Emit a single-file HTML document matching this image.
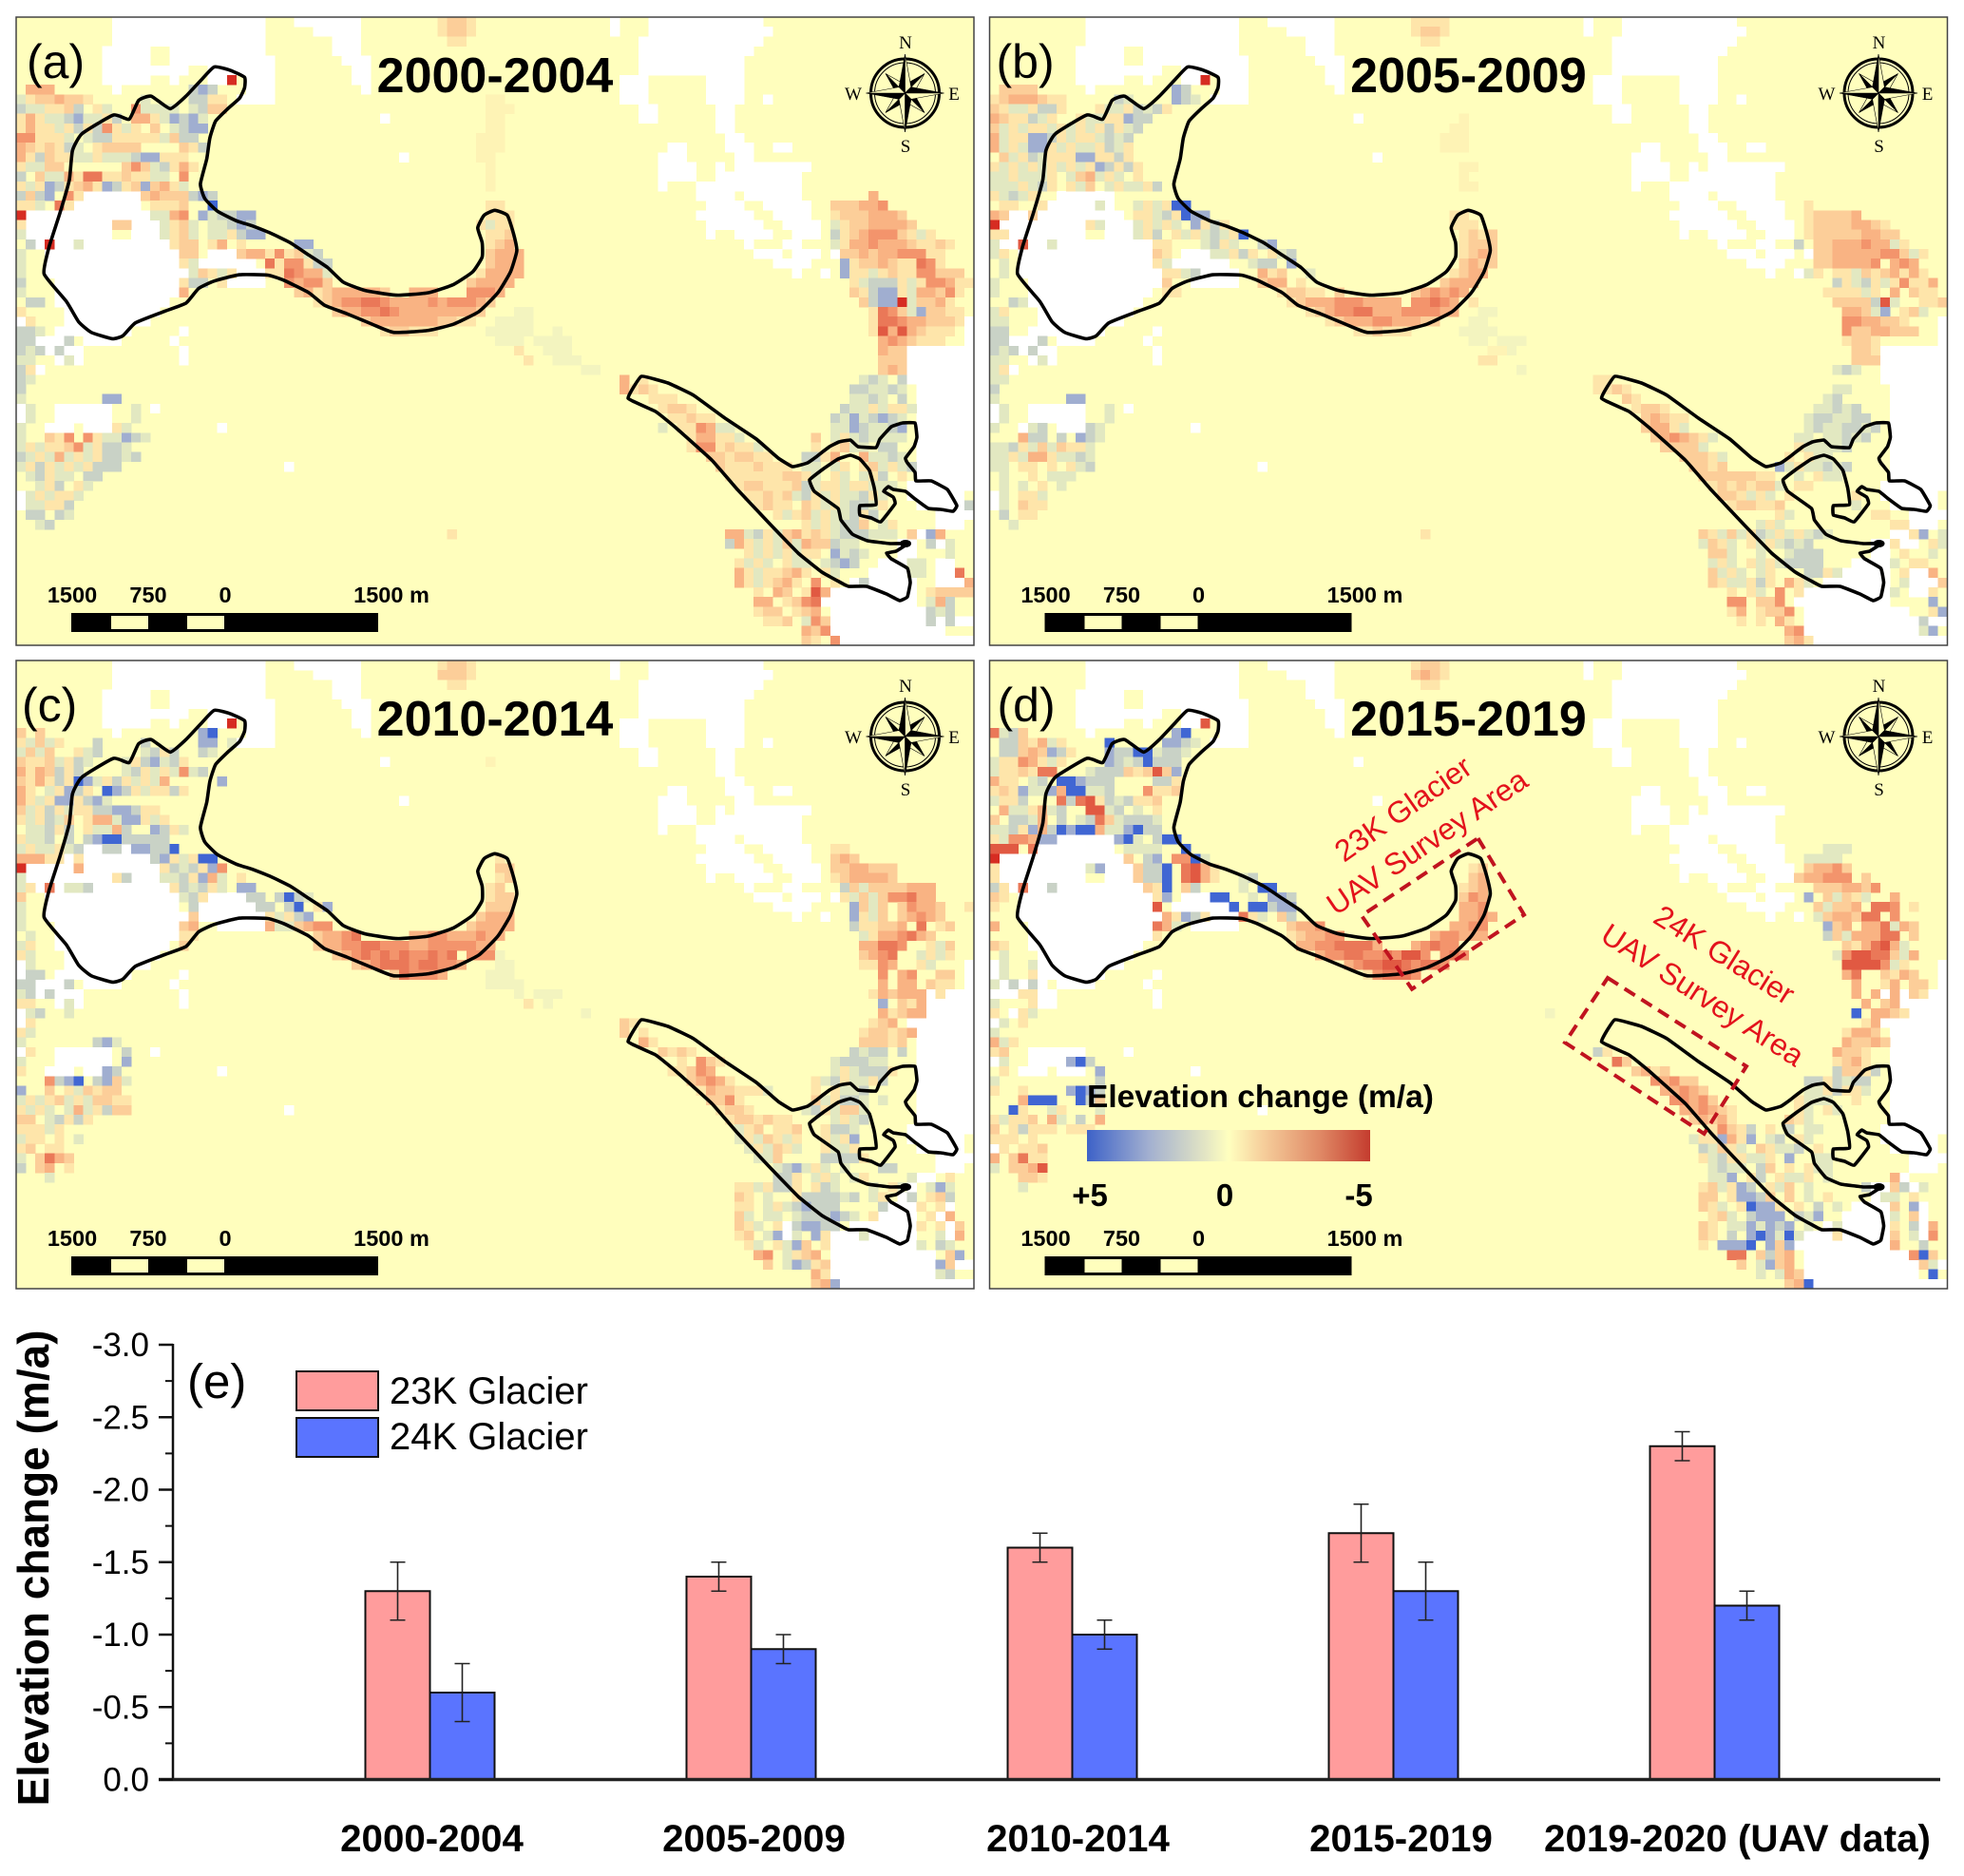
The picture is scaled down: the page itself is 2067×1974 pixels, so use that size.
<!DOCTYPE html>
<html lang="en">
<head>
<meta charset="utf-8">
<title>Glacier elevation change</title>
<style>
html,body{margin:0;padding:0;background:#fff;width:2067px;height:1974px;overflow:hidden}
svg{display:block;font-family:"Liberation Sans",Arial,sans-serif}
.title{font-size:52px;font-weight:700;text-anchor:middle}
.plabel{font-size:50px}
.sb{font-size:23.5px;font-weight:700;text-anchor:middle}
.cp{font-family:"Liberation Serif",serif;font-size:19px;text-anchor:middle}
.tick{font-size:35px;text-anchor:end}
.cat{font-size:40.3px;font-weight:700;text-anchor:middle}
.leg{font-size:40px}
.red{font-size:32px;fill:#e3121c;text-anchor:middle}
.cb{font-size:33px;font-weight:700;text-anchor:middle}
</style>
</head>
<body>
<svg id="fig" xmlns="http://www.w3.org/2000/svg" width="2067" height="1974" viewBox="0 0 2067 1974">
<defs>
<linearGradient id="cbg" x1="0" x2="1" y1="0" y2="0">
<stop offset="0" stop-color="#3d62c8"/><stop offset=".22" stop-color="#a3b0d0"/><stop offset=".42" stop-color="#e4e6c4"/><stop offset=".5" stop-color="#ffffbf"/><stop offset=".62" stop-color="#f6cf9c"/><stop offset=".82" stop-color="#e08a66"/><stop offset="1" stop-color="#c43c2e"/>
</linearGradient>
</defs>

<g id="panel-a">
<rect id="bg-a" x="17" y="18" width="1008" height="661" fill="#fffebd"/>
<g id="cells-a" shape-rendering="crispEdges"></g>
<g id="outline-a"></g>
<rect x="17" y="18" width="1008" height="661" fill="none" stroke="#444" stroke-width="1.5"/>
<text class="plabel" x="28" y="82">(a)</text>
<text class="title" x="521" y="97">2000-2004</text>
<g><g class="compass"></g>
<text class="cp" x="953" y="51">N</text><text class="cp" x="953" y="160">S</text><text class="cp" x="898" y="105">W</text><text class="cp" x="1004" y="105">E</text></g>
<g class="scalebar"></g>
<text class="sb" x="76" y="634">1500</text><text class="sb" x="156" y="634">750</text><text class="sb" x="237" y="634">0</text><text class="sb" x="412" y="634">1500 m</text>
</g>

<g id="panel-b" transform="translate(1024.5,0)">
<rect id="bg-b" x="17" y="18" width="1008" height="661" fill="#fffebd"/>
<g id="cells-b" shape-rendering="crispEdges"></g>
<g id="outline-b"></g>
<rect x="17" y="18" width="1008" height="661" fill="none" stroke="#444" stroke-width="1.5"/>
<text class="plabel" x="24" y="82">(b)</text>
<text class="title" x="521" y="97">2005-2009</text>
<g><g class="compass"></g>
<text class="cp" x="953" y="51">N</text><text class="cp" x="953" y="160">S</text><text class="cp" x="898" y="105">W</text><text class="cp" x="1004" y="105">E</text></g>
<g class="scalebar"></g>
<text class="sb" x="76" y="634">1500</text><text class="sb" x="156" y="634">750</text><text class="sb" x="237" y="634">0</text><text class="sb" x="412" y="634">1500 m</text>
</g>

<g id="panel-c" transform="translate(0,677)">
<rect id="bg-c" x="17" y="18" width="1008" height="661" fill="#fffebd"/>
<g id="cells-c" shape-rendering="crispEdges"></g>
<g id="outline-c"></g>
<rect x="17" y="18" width="1008" height="661" fill="none" stroke="#444" stroke-width="1.5"/>
<text class="plabel" x="23" y="82">(c)</text>
<text class="title" x="521" y="97">2010-2014</text>
<g><g class="compass"></g>
<text class="cp" x="953" y="51">N</text><text class="cp" x="953" y="160">S</text><text class="cp" x="898" y="105">W</text><text class="cp" x="1004" y="105">E</text></g>
<g class="scalebar"></g>
<text class="sb" x="76" y="634">1500</text><text class="sb" x="156" y="634">750</text><text class="sb" x="237" y="634">0</text><text class="sb" x="412" y="634">1500 m</text>
</g>

<g id="panel-d" transform="translate(1024.5,677)">
<rect id="bg-d" x="17" y="18" width="1008" height="661" fill="#fffebd"/>
<g id="cells-d" shape-rendering="crispEdges"></g>
<g id="outline-d"></g>
<rect x="17" y="18" width="1008" height="661" fill="none" stroke="#444" stroke-width="1.5"/>
<text class="plabel" x="25" y="82">(d)</text>
<text class="title" x="521" y="97">2015-2019</text>
<g><g class="compass"></g>
<text class="cp" x="953" y="51">N</text><text class="cp" x="953" y="160">S</text><text class="cp" x="898" y="105">W</text><text class="cp" x="1004" y="105">E</text></g>
<g class="scalebar"></g>
<text class="sb" x="76" y="634">1500</text><text class="sb" x="156" y="634">750</text><text class="sb" x="237" y="634">0</text><text class="sb" x="412" y="634">1500 m</text>
</g>

<g>
<polygon points="1555.5,882 1604,962.5 1486,1040.7 1433,963.4" fill="none" stroke="#c0131f" stroke-width="4" stroke-dasharray="13 8"/>
<polygon points="1692,1029 1838,1122 1793.5,1193 1647,1097" fill="none" stroke="#c0131f" stroke-width="4" stroke-dasharray="13 8"/>
<text class="red" transform="translate(1483,860) rotate(-35)">23K Glacier</text>
<text class="red" transform="translate(1508,895) rotate(-34)">UAV Survey Area</text>
<text class="red" transform="translate(1809,1014) rotate(32)">24K Glacier</text>
<text class="red" transform="translate(1786,1056) rotate(33)">UAV Survey Area</text>
</g>

<g>
<text x="1144" y="1165" font-size="33.5" font-weight="700">Elevation change (m/a)</text>
<rect x="1144" y="1189" width="298" height="33" fill="url(#cbg)"/>
<text class="cb" x="1147" y="1269">+5</text>
<text class="cb" x="1289" y="1269">0</text>
<text class="cb" x="1430" y="1269">-5</text>
</g>

<g id="barchart">
<text transform="translate(51,1650) rotate(-90)" font-size="46" font-weight="700" text-anchor="middle">Elevation change (m/a)</text>
<text x="197" y="1471" font-size="51">(e)</text>
<g>
<rect x="312" y="1443" width="86" height="41" fill="#ff9c9c" stroke="#111" stroke-width="2"/>
<text class="leg" x="410" y="1477">23K Glacier</text>
<rect x="312" y="1492" width="86" height="41" fill="#5a74ff" stroke="#111" stroke-width="2"/>
<text class="leg" x="410" y="1525">24K Glacier</text>
</g>
<g id="bars"></g>
<g id="axes"></g>
</g>
</svg>

<script>
/* ---------- bar chart data ---------- */
const categories = ["2000-2004","2005-2009","2010-2014","2015-2019","2019-2020 (UAV data)"];
const glacier23K = [-1.3,-1.4,-1.6,-1.7,-2.3];
const glacier24K = [-0.6,-0.9,-1.0,-1.3,-1.2];
const error23K = [0.2,0.1,0.1,0.2,0.1];
const error24K = [0.2,0.1,0.1,0.2,0.1];
const yTickValues = [0,-0.5,-1.0,-1.5,-2.0,-2.5,-3.0];
const yTickLabels = ["0.0","-0.5","-1.0","-1.5","-2.0","-2.5","-3.0"];

/* ---------- map data ----------
   legend of cell codes -> elevation change in m/a */
const levelValues = {z:0.3,a:0.7,b:1.4,c:2.6,d:4.6,"0":-0.3,"1":-0.7,"2":-1.3,"3":-2,"4":-2.8,"5":-3.5,"6":-4.2,"7":-5};

/* no-data cells (white), shared by all panels: one string per row, "from-to" column runs */
const noDataRows = [
"10-26 29-36 62-63 66-78","10-26 31-36 62-63 66-79","10-26 33-36 65-78","9-14 16-26 33-36 65-77","9-14 16-27 34-37 65-76",
"9-18 20-27 35-37 65-76","9-14 16-17 20-22 24-27 35-37 63-66 72-76","10-11 24-27 36-37 63-66 72-76","23-27 63-66 72-76 78-79","65-67 73-75",
"38-39 65-67 73-75","73-75","74-76","68-70 74-77 79-81","40-41 67-70 75-77",
"67-71 73-74 75-83","67-71 73-82","67-68 71-82","7-13 71-75 76-82","5-13 72-76 78-83",
"1-14 71-77 79-83","1-15 72-78 80-84","1-10 12-16 72-73 75-79 81-84","1-17 76-77 80-82","3-17 20-24 77-80 81-84 85-86",
"3-17 19-25 79-83","3-18 19-26 81-82 84-85","4-18 21-26","4-17","4-16",
"5-15","0-1 5-14 99-100","0-2 4-12 17-18 99-100","0-6 7-11 16-17 99-100","0-7 17-18 93-100",
"4-7 17-18 93-100","0-1 2-3 93-100","0-1 93-100","0-1 94-100","0-1 94-100",
"0-1 4-10 14-15 94-100","0-1 4-10 94-100","3-6 7-10 21-22 94-100","94-100","94-100",
"94-100","28-29 94-100","94-100","93-100","0-1 93-99",
"0-1 94-99","96-100","96-99","94-96","92-94 95-97",
"92-94","90-94 96-98","89-94 96-98","80-81 87-94 96-99","80-81 85-94 96-98",
"84-94","85-96","85-97 98-100","85-97","85-100"];

const panelA = [
"44:1221","44:1221","45:11","","",
"","22:7","1:333 18:bcb","0:a1223221 13:a 18:bb11 49:00","0:baa112b.1a 12:4aaaa 18:ab22 49:000",
"0:131aabcaa1b 12:33 14:1acbca 49:00","0:1311a1b1 8:b4 10:1a1 14:2 16:abcc 49:00","0:44111a 7:abb11111a 16:2bb 48:000","0:32121ba 8:1222 12:2 17:21b 48:000","0:31b211aa1aaa 12:bcc1 16:11 48:00",
"0:1aa22 11:24 13:2 14:ab 16:13 18:1 49:0","0:b.2aa31 7:55 9:1 10:121 13:1aa 17:4 49:0","0:1a1cb123 8:1c 10:b1 12:2c 14:23 16:1a 49:0","0:b2bc.4 6:1 13:2322 17:2b 19:cb 89:3","0:11a 4:51 14:1112 20:d 49:11 85:222334",
"0:7 14:aa34 19:cabb 22:bcc 49:111 85:12223332","0:1 10:22 15:a12a 20:aabcb 48:1a11 85:a12233332","0:a 15:a12a 20:aa1bcc 49:112 85:b12344421a1","1:b 3:7 6:a 16:122 20:13 23:1 29:cc 49:123 85:a133433321121","0:a 17:22 23:2 24:331 27:4 28:1 29:2a 31:b 49:2333 86:22323344411",
"0:a 17:1a 26:5 27:1 28:44 30:1 31:bb 49:2333 86:c1223211541","0:a 18:a2 20:1a1 26:1 27:1 28:5433 32:a 48:13333 86:c11a121144222","0:b 17:1bb 21:1 28:4344 32:2 47:23333 87:1abbb1a144311","0:a 17:3 29:23 31:12333332 41:333 47:4443 87:21bcc1a33241","1:bb 31:1234455433334344432 88:2bcc7a2231",
"0:1 33:2334454333333332 52:zz 89:1542ac2211","1:1 36:233333332211 50:zzzz 89:1554332221","0:bb 2:a 38:122111 49:zzzzz 56:z 89:163632111","0:bb 5:b 50:zzz 54:zzzz 90:3432111","0:bab 4:b 52:1 55:zzz 90:322",
"0:a 1:a 5:a 53:1 56:zzz 90:222","0:b 1:1 59:zz 90:232","0:b 1:a 63:3 65:1 88:aba.b","0:b 63:3121 87:bbaaba","0:a 9:cc 66:111 87:aaba.b",
"1:a 12:a 67:1221 86:baa1a11a","1:a 12:a 68:11211 85:bacabcba","0:a 10:1a 67:a.1143aa 85:aacbaabc","0:a 3:214 7:4 8:1 9:aa 11:c 12:ba 70:13311a 83:2.a1abaaaa","0:a1a1124a1bba 70:1441211a 83:1.12aa.bb",
"0:ba1a3a1a1bbab 72:2212211 82:bb13.. 88:3aaba","0:a1b1a1a1bbb 73:21112111 82:aa.a1.1 89:2a1ab","1:ab1aa.bb 74:11111122 82:1a.1a.a1b.1","2:a1b.1a 75:1221112 82:ba11a11aaa","1:a1a11a 76:11212a 82:b1a1aab1a",
"1:aa 3:11b 77:1211.21 84:a1abba1 99:b","1:bb.ba 79:1a12a1aab1b","2:ab 82:1a1abb2.a1","45:1 74:33ab1a231 83:21abbbaaa 93:2 95:c 96:3","74:b31a1a2a 82:322baa 95:b 97:a",
"76:1a1a1a 82:11.caba 97:a","75:1a1a.1a 82:a.abcb 93:aa","75:31a11231 83:.1a 93:aa 98:5","75:31a1231. 83:4.1 88:b 99:3","77:1.32.1. 83:63 95:12 97:222",
"77:33.122 82:45 95:a3b","77:122.11 82:23 95:bab","78:112 82:a42 95:b 97:b","82:324","82:21 85:4"];

const panelB = [
"44:1111","44:1221","45:11","","",
"","22:7","1:2222 19:cb","0:12333211 13:ba 19:cba","0:21aa1bb1 11:1aa1bab1",
"0:3211ba1 9:1aa11cbb 49:0","0:2a1a11a1a1a1b1ab 48:00","0:3a11ccb1a11abab 47:000","0:3a1acc1a1aa1ba1 47:000","1:2a1ba111cc11b1",
"0:1a1a1a1a 8:1a1cb1b1 49:00","0:aa1aaa1.a 9:23a1a.1 49:0","0:aaa1ab1 8:1a2 12:a1aa1b 49:00","0:1aba1","1:1 2:1 5:1 11:a 15:a1a1dd 85:1",
"0:3 1:2 4:2 15:11ab1dcc 48:11 85:122223","0:7 10:1a 15:a1a1a.c1b1 48:111 85:122223321","0:11 15:a1b.1a1aba1d 49:1212 85:1222223322","0:a 3:6 6:a 17:11 22:ab1a 28:bc 49:1222 84:b.22333433a1","0:a1 17:21 23:aa1b1 29:1ab 49:1232 86:2233333442a1",
"1:a 17:1a 27:a 28:bb 31:c 49:2322 86:2233334 94:3 95:43","1:a 18:11ab 28:3 29:12 33:a 48:1233 85:a1.11a2123 95:131","0:a 18:2 28:2 29:33 32:1 47:2333 88:b1ab1a141 96:1 97:13","0:a 18:11 30:122 33:11 36:2 44:2 45:3 46:4 47:343 87:1111a1 94:3 96:211","2:ba 31:12333444 39:3333 44:44543 50:1 88:2222b6a 97:112",
"0:a1 33:12344553334444 47:33 51:zz 89:3 90:3 91:2a 93:c 95:12a","0:a 1:a 35:123334433322 50:zz 89:4 90:433221","0:bb 38:11 40:2 41:1 42:11 49:zzzz 89:4 90:2 91:2 92:33 94:2 95:22","0:bb 5:b 50:zz 53:zzz 89:1 90:2 91:2 92:1","0:bab 4:b 52:00 54:z 90:22 92:1",
"0:a 1:a 5:a 51:11 90:222","0:a 1:1 55:z 88:aba","0:a 1:a 63:1 64:1","0:b 63:1 64:121 88:aa","0:a 8:cc 66:21 87:ab",
"1:a 12:a 67:1221 86:aabab","1:a 12:a 68:23211 85:abbaabb","0:a 4:ab 10:b 11:a 67:.2331a 85:abaabbab","3:3bb 7:b 9:cb 11:a 69:234321a 84:aa.aabab","0:aab1a2 6:a2 8:11a 70:2222a 84:1aaaab",
"0:aa1a3 5:31aaba 72:2221a 83:1.1aa","0:aa 3:11 6:1 8:1ab 73:2 74:2 75:1 76:2 82:ca1aabab","1:a 4:1 6:a 7:aa 74:22222211 84:a.1aa","1:a 3:a 5:1 7:a 75:1212122a.11","1:a 3:11a 76:221a1a.1 90:1",
"1:a 3:211 77:122112 90:a","1:b 3:1 4:1 82:1a 92:1 93:1","2:a 80:a1a 94:1 95:1","45:1 74:21a2a1ba1a1aba 96:1 97:c 99:a","74:a21a.1a1abab 94:1 98:1a",
"75:22a 80:a 83:abbb 95:1 98:a","75:a1a.1a1abbbb 94:a 96:1 97:1","75:2a1a.a1 85:bb1a 95:1 98:3","75:21aa1b1.3 84:1a 95:a 99:2","77:1.1a.4.1 94:a 98:1",
"77:44 80:22 82:4 98:c","77:13 80:12 82:24 98:1c","78:1 80:1 82:3 83:1 97:b","83:34 97:ac","83:23 85:1"];

const panelC = [
"44:1221","44:2221","45:11","","",
"","22:7","0:2 2:2 19:cd","0:1a2a1 8:b 13:b 19:cc 22:a","0:a2a2 6:1a 8:b 13:ab1b 19:ba",
"0:2112a1ba 11:a1bcab1 49:0","0:3132b1b 11:ab1a1a4ab","0:2131b1dca1b1a1a3 21:c","0:3 1:1 3:a1cb1.dcb1a11b1","0:31a1cc1bca",
"0:2 1:a1b1a11bbccb11","0:1a1ba2 7:133a 11:cc1a1","1:aab1b 7:1a 9:a3b 14:cb1a","0:1aab.b 7:bcdd 11:bbbbb","0:a1aa1ab 8:.bb.ccbbd 85:11",
"0:33311 6:1 14:bc1a1dd 50:1 85:232","0:7 6:3 15:1bab1c4 50:22 85:2233222","0:a 10:1b 15:aab1c3a.1 50:12 84:.1233332 91:2","0:a1 3:5 5:a 6:a 7:b 16:1bab1a.cc 49:12 86:b2a2222333","0:2 17:ab1 24:bb 27:bd 29:ba 49:122 86:1a2a2 91:44533",
"0:a 18:b 25:bb 28:bd.1c 49:222 87:c2a2 92:2 93:4 94:332 99:1","0:a 18:2 26:1 27:a1bc 48:2333 87:c1a2 92:2 93:34 95:32","0:a 17:2 18:3 26:3 27:aa 29:2344 47:23333 87:b1122 92:3 94:5.1 97:2","1:a 17:1 18:1 31:23345 41:3344 45:333433 88:a13345 94:32","0:a1 17:2 31:2334455 38:4443 42:34444433 88:33554 94:.1a2",
"0:1a 33:2345454544 43:545.4443 50:z 88:2345 94:a1a1","1:a 35:2345554554 45:43 50:zz 88:1143 94:1a","1:bb 39:254443 49:zzz 90:4 92:3 93:4 96:22","0:bb 5:b 49:zzzz 90:3 92:3 93:3 95:211","0:ab 3:b 52:z 54:zzz 89:1 90:3 91:2 92:3 93:33 96:1",
"0:11 4:.a 53:1 55:z 90:c 92:2 93:1 94:3","0:.1 1:a 2:b 4:.a 59:z 90:3 91:1 92:2 93:3 94:3","1:1 63:2 64:1 89:1 90:2 91:3","0:1a 63:2 65:1 88:1 89:2 90:2 91:1 92:2 93:3","0:a 8:bc 10:a 65:3 66:1 88:22212",
"0:.1 11:b 67:2 68:1 69:2 70:1 87:babb 92:b","0:a 11:c 69:1 71:42 73:1 85:abbbaa","0:1 9:cb 68:1 69:12 71:43 85:a1abbb 91:1","3:4bcd.bc 10:2 11:a 70:2343 74:1 83:1ab1aa1b","0:c 3:2 5:1a 7:2 8:1 9:22 71:1322111a 83:1.1aab",
"0:a1a12a1a2 9:21 11:1 72:2241 75:1 83:2a1bba 90:a","0:1a 2:1a 5:a3 7:a1b3 10:22 73:1223 76:1 82:ab1a 86:2 87:2a","0:2 1:2 3:ab 5:1b1 74:1221211 84:.a1ab","0:11 2:1 3:a1 77:2 79:1 80:12 75:a1 84:1bba","0:a 1:1 2:1 4:1 6:a 75:a1a21a1 84:1 85:a1c",
"0:1 1:2 3:1 4:1 76:a1a21a 84:1 85:a 86:a1","0:a 2:22 3:5 4:3 5:2 76:.aa2 84:bb 86:bb1","0:b 2:22 3:3 5:1 79:a 80:bc 82:a1a.a 90:bb","3:a 79:bb1.a 83:a1a 87:a1 93:a 97:1","75:11 77:a1 79:bb1 83:1ba 89:a 91:1a 95:a 96:c 97:a",
"75:21 78:a 81:1bbbbab 89:a1 93:b 95:12 97:b","75:1 76:1 78:a1a 81:bcbbb 90:b 94:1 96:1","75:2a 78:aa 81:abbbcb 87:a 89:1 94:.1 97:3","75:2 76:1 77:a.1 81:bcc2 84:bb 94:1 96:1 98:2","75:12 78:a 79:c.a.cc 84:1 88:a 96:a 98:3",
"76:1a 79:1a.a 81:c2 84:1 94:a 96:ba","77:3 78:4 80:a 81:12 83:3 97:2c","78:2 80:a 81:c 82:b 83:12 96:c 97:2","83:3 84:1 96:a 97:b","83:23 85:c"];

const panelD = [
"44:1221","44:2321","45:11","","",
"","22:6","0:5ab2 19:cd","1:bb21 5:3a1 12:d 18:ccba","1:bb232cb1 12:cbb 15:dd 17:abba",
"0:a1143 5:1a1 12:cba 15:bdbb 19:b","0:a112 4:155 10:abb 13:b2 15:1 16:2 17:6 18:2 19:c","0:311.ab 7:ddc 10:bbb 17:bb 19:1","0:121caac 7:3dd 10:aab 16:411 19:2","0:a11b 7:5b56 11:1b 13:ab 15:112",
"1:3aa13a 7:b 10:66 12:ab 15:a.1","0:2.bba3 7:b.ab 11:52ab 15:bba","0:aab1c3bdc 9:dd 11:3 12:aa 14:cd 16:bb","0:1a443cc 13:cd 15:a 17:b 18:dd","0:666 4:5 14:aaaa 20:d 87:aaa",
"0:7 14:2.bc 19:44da 85:aaaa","0:1 10:ac 15:2bbd 20:5631 50:12 85:23342","0:1 15:2bbd 20:5631 26:ab 50:23 84:233444 91:2","0:b1 3:5 6:b 16:21d 20:2b 26:a 28:dd 49:123 85:.2223324 90:3","0:21 17:1c 23:dd 27:a 29:ccb 49:243 85:c.2a23 90:1a 94:3",
"0:1 17:6 25:d 27:d 28:d 29:bcc 49:334 86:2a223 92:5 93:54 96:1","18:31cb1 26:5 27:1a 30:2b 49:3343 86:a23322 91:55 94:4","0:3 17:53a 31:2334 48:3344 87:c2 89:3 91:33 93:5a 95:32","17:1 31:12334 36:4 46:344333 87:b2a3 91:3 92:355 96:2","0:21 32:334455 38:55 40:3 44:34544 89:2a 90:1 91:3 92:56 94:3a",
"1:a 34:3445544546 44:64.454 88:a4 90:666 92:55 94:2a3","1:a 4:a 37:34556654554 89:6666 93:4 94:a 95:1","1:a 4:1 39:145554 89:3 90:5 93:2 94:1 95:32","0:a 2:b 4:b 90:3 93:1 94:3 96:2 97:2","3:1 4:1 90:3 92:3 94:3 96:21",
"0:a 4:1 91:3 93:2 94:3","0:1 3:1 4:a 58:z 90:d 92:3 93:3 94:2 95:1","1:a 3:1 91:1 92:3","0:a 89:1 90:3 91:3 92:2","0:3 1:a 2:1 89:3 90:2 91:2 92:3 93:2",
"0:1 1:2 63:b 64:1 88:3 89:2 90:2 91:1","1:a 8:c 9:d 10:b 65:5 66:2 88:1 89:2 90:3 91:1","0:.1 11:c 67:2 68:3 69:1 70:2 88:b 89:2 90:2 91:1 92:b","0:a 11:b 69:4 70:3 71:42 73:2 85:bb1bab 91:b","0:1 3:1 8:c 9:d 10:c 11:b 70:3 71:3 72:4 73:3 74:2 85:aa1b1 90:1 91:a",
"3:3ddd 9:d 10:b 11:2 71:4 72:4 73:3 74:4 75:2 84:1aaa 90:1","2:d 3:1 6:a 7:1 11:a 72:33 74:4 75:3 76:2 77:1 84:1a 87:1 88:a","0:1a1 3:1 4:2 6:3 7:a 9:b 11:3 73:2 74:3 75:2 76:3 77:1 83:2 84:1a","0:2 2:1 3:b 4:1 5:1 6:1 8:1 9:1 10:1 75:1a 76:4 77:2 78:1 79:b 81:1 83:b 85:aa","0:11 2:1 4:1 73:a 74:1 75:1 76:c 77:3 78:1 79:c 81:ab 84:1 85:a",
"1:1 3:1 4:1 5:2 74:b 75:a 76:2 77:1 78:a 80:2 81:1 82:aa 84:b 86:1","0:3 2:2 3:5 4:1 5:1 74:1 75:a 76:b 77:1 78:1a 80:a 81:1 83:c 86:aa","0:a 2:2 3:2 4:3 5:6 75:a 76:b 77:a 78:a 80:b 81:2 83:1 85:1 86:a 87:a","3:2 4:2 5:1 75:a 76:ac 78:.1 80:b 82:1a 84:a 85:1 87:a 94:3","3:a 74:1 75:2 76:a 77:1 78:c 79:b 81:1a 83:2 85:a 91:b 94:2 95:b 97:a",
"74:2 75:2 77:1 78:cc 80:b 81:2 83:2 85:a 87:1 93:a 94:a 96:1","74:2 75:1 76:a 78:1b 79:d 80:c 81:c 82:1 84:1 86:b 88:a 94:2 96:c","75:1 76:2 77:a 79:bc 81:cc 84:ba 86:c 94:a 95:.2","74:2 75:1 77:a 78:a 79:ca 81:cbc 85:a 88:a 94:1 95:.1 96:b 98:3","74:2 75:1 77:b 79:cdc 81:ca 83:d 84:a 88:1 94:2 96:a 98:4",
"74:1 76:c 77:cc 79:d 81:c 82:2 83:c 94:3 97:b","77:5 78:5 80:2 81:b 82:2 83:3 96:4 97:d 98:2","78:2 80:a 81:c 82:2 83:3 97:2 98:a","80:a 82:a 83:3 84:2 98:d","83:23 85:d"];

/* 23K outline is in reference zoom units (scaled by .6633/.44), 24K outline in panel pixels */
const outline23K = [[340,160],[365,168],[388,185],[388,210],[380,235],[360,262],[342,290],[333,330],[328,380],[318,440],[325,475],[345,505],[375,528],[400,540],[430,558],[460,580],[490,610],[520,640],[545,675],[580,695],[630,706],[680,700],[720,680],[750,650],[765,615],[765,580],[758,545],[768,515],[785,503],[805,515],[815,560],[820,600],[810,650],[790,700],[760,745],[720,775],[680,790],[625,795],[590,775],[550,750],[515,730],[490,700],[450,670],[425,658],[380,657],[340,672],[315,690],[295,725],[260,745],[215,772],[195,803],[178,810],[145,795],[125,770],[105,720],[70,655],[78,590],[95,510],[110,430],[115,360],[130,320],[180,275],[205,285],[220,240],[240,230],[270,260],[295,230],[320,190]];
const outline24K = [[675,396],[703,403],[730,416],[763,440],[796,462],[819,482],[834,491],[850,487],[860,480],[873,470],[883,465],[895,463],[903,470],[922,471],[926,462],[938,449],[950,445],[963,445],[965,460],[962,470],[953,482],[955,487],[963,497],[964,506],[980,506],[997,515],[1007,532],[1003,538],[990,536],[977,535],[963,525],[953,517],[940,515],[935,512],[930,517],[940,523],[942,530],[927,549],[917,545],[905,542],[905,532],[922,531],[920,513],[915,495],[905,483],[895,479],[882,483],[867,493],[852,505],[857,517],[882,535],[885,547],[897,562],[913,569],[937,572],[955,572],[943,580],[933,582],[938,588],[955,598],[958,613],[955,628],[947,632],[933,625],[912,617],[893,617],[883,612],[865,602],[840,582],[809,550],[776,515],[749,484],[710,449],[690,433],[661,419]];

const SVGNS = "http://www.w3.org/2000/svg";
function mk(tag, attrs, parent){
  const el = document.createElementNS(SVGNS, tag);
  for (const k in attrs) el.setAttribute(k, attrs[k]);
  parent.appendChild(el);
  return el;
}

/* ---------- colour scale ---------- */
const colorStops = [[5,[45,88,212]],[2.5,[165,178,208]],[1,[214,222,194]],[0,[255,254,189]],[-1,[253,218,162]],[-2.5,[247,160,116]],[-4,[228,100,74]],[-5,[214,44,34]]];
function colorFor(v){
  for (let i = 0; i < colorStops.length - 1; i++) {
    const a = colorStops[i], b = colorStops[i + 1];
    if (v <= a[0] && v >= b[0]) {
      const t = (a[0] - v) / (a[0] - b[0]);
      return "rgb(" + a[1].map((c, j) => Math.round(c + (b[1][j] - c) * t)).join(",") + ")";
    }
  }
  return v > 0 ? "rgb(45,88,212)" : "rgb(214,44,34)";
}

/* ---------- map axes ---------- */
const cellW = 1008 / 100, cellH = 661 / 65;
const colX = c => 17 + c * cellW;
const rowY = r => 18 + r * cellH;

function drawHeat(group, rows){
  noDataRows.forEach((row, r) => {
    row.split(" ").forEach(run => {
      if (!run) return;
      const p = run.split("-");
      const cell = mk("rect", {x: colX(+p[0]), y: rowY(r), width: (p[1] - p[0]) * cellW + .3, height: cellH + .3, fill: "#fff"}, group);
      
      
    });
  });
  rows.forEach((row, r) => {
    row.split(" ").forEach(seg => {
      const p = seg.split(":");
      if (p.length < 2) return;
      [...p[1]].forEach((ch, i) => {
        if (!(ch in levelValues)) return;
        const cell = mk("rect", {x: colX(+p[0] + i), y: rowY(r), width: cellW + .3, height: cellH + .3, fill: colorFor(levelValues[ch])}, group);
        
        
      });
    });
  });
}

/* ---------- outlines ---------- */
function smoothPath(pts, sx, sy, k){
  const P = pts.map(p => [p[0] * sx, p[1] * sy]);
  const n = P.length;
  let d = "M" + P[0][0].toFixed(1) + " " + P[0][1].toFixed(1);
  for (let i = 0; i < n; i++) {
    const p0 = P[(i - 1 + n) % n], p1 = P[i], p2 = P[(i + 1) % n], p3 = P[(i + 2) % n];
    d += "C" + (p1[0] + (p2[0] - p0[0]) * k).toFixed(1) + " " + (p1[1] + (p2[1] - p0[1]) * k).toFixed(1) + " " +
         (p2[0] - (p3[0] - p1[0]) * k).toFixed(1) + " " + (p2[1] - (p3[1] - p1[1]) * k).toFixed(1) + " " +
         p2[0].toFixed(1) + " " + p2[1].toFixed(1);
  }
  return d + "Z";
}
function drawOutlines(group){
  [[smoothPath(outline23K, 0.6633, 0.44, 0.08), 'outline-23k-glacier'], [smoothPath(outline24K, 1, 1, 0.05), 'outline-24k-glacier']].forEach(o => {
    const path = mk("path", {d: o[0], fill: "none", stroke: "#000", "stroke-width": 3.6, "stroke-linejoin": "round"}, group);
    
    
  });
  const blob = mk("ellipse", {cx: 953, cy: 572, rx: 6, ry: 4, fill: "#000"}, group);
  
  
}

/* ---------- compass + scale bar graphics ---------- */
function drawCompass(g){
  const cx = 952.5, cy = 98;
  mk("circle", {cx, cy, r: 36, fill: "none", stroke: "#000", "stroke-width": 3}, g);
  mk("circle", {cx, cy, r: 32, fill: "none", stroke: "#000", "stroke-width": 1}, g);
  for (let i = 0; i < 8; i++) {
    const a = i * Math.PI / 4 + Math.PI / 4;
    const R = 29;
    const tip = [cx + R * Math.sin(a), cy - R * Math.cos(a)];
    const l = [cx + 8 * Math.sin(a - Math.PI / 2.4), cy - 8 * Math.cos(a - Math.PI / 2.4)];
    const r = [cx + 8 * Math.sin(a + Math.PI / 2.4), cy - 8 * Math.cos(a + Math.PI / 2.4)];
    mk("polygon", {points: [tip, l, [cx, cy]].join(" "), fill: i % 2 ? "#fffebd" : "#000", stroke: "#000", "stroke-width": .6}, g);
    mk("polygon", {points: [tip, r, [cx, cy]].join(" "), fill: i % 2 ? "#000" : "#fffebd", stroke: "#000", "stroke-width": .6}, g);
  }
  for (let i = 0; i < 4; i++) {
    const a = i * Math.PI / 2;
    const R = 41;
    const tip = [cx + R * Math.sin(a), cy - R * Math.cos(a)];
    const l = [cx + 9 * Math.sin(a - Math.PI / 4), cy - 9 * Math.cos(a - Math.PI / 4)];
    const r = [cx + 9 * Math.sin(a + Math.PI / 4), cy - 9 * Math.cos(a + Math.PI / 4)];
    mk("polygon", {points: [tip, l, [cx, cy]].join(" "), fill: "#000", stroke: "#000", "stroke-width": .6}, g);
    mk("polygon", {points: [tip, r, [cx, cy]].join(" "), fill: "#fffebd", stroke: "#000", "stroke-width": .6}, g);
  }
}
function drawScale(g){
  mk("rect", {x: 75, y: 645, width: 323, height: 20, fill: "#000"}, g);
  mk("rect", {x: 117, y: 648, width: 39, height: 14, fill: "#fffebd"}, g);
  mk("rect", {x: 197, y: 648, width: 39, height: 14, fill: "#fffebd"}, g);
}

[["a", panelA], ["b", panelB], ["c", panelC], ["d", panelD]].forEach(p => {
  drawHeat(document.getElementById("cells-" + p[0]), p[1]);
  drawOutlines(document.getElementById("outline-" + p[0]));
});
document.querySelectorAll(".compass").forEach(drawCompass);
document.querySelectorAll(".scalebar").forEach(drawScale);

/* ---------- bar chart ---------- */
const Y0 = 1872.5, Y3 = 1415, AXIS_X = 182;
const yScale = v => Y0 + (v / -3) * (Y3 - Y0);
const xScale = i => 452.5 + i * 338;
const BAR_W = 68;
const labelNudge = [2, 3, 6, 8, 24];
const barsG = document.getElementById("bars");
const axesG = document.getElementById("axes");

function drawBar(i, v, e, side, fill, name){
  const x = side === 0 ? xScale(i) - BAR_W : xScale(i);
  const rect = mk("rect", {x, y: yScale(v), width: BAR_W, height: Y0 - yScale(v), fill, stroke: "#111", "stroke-width": 2}, barsG);
  
  
  const cx = x + BAR_W / 2;
  const top = yScale(v - e), bot = yScale(v + e);
  const err = mk("path", {d: "M" + cx + " " + top + "V" + bot + "M" + (cx - 8) + " " + top + "H" + (cx + 8) + "M" + (cx - 8) + " " + bot + "H" + (cx + 8), stroke: "#222", "stroke-width": 1.6, fill: "none"}, barsG);
  
  
}
categories.forEach((c, i) => {
  drawBar(i, glacier23K[i], error23K[i], 0, "#ff9c9c", "bar-23k");
  drawBar(i, glacier24K[i], error24K[i], 1, "#5a74ff", "bar-24k");
  const t = mk("text", {class: "cat", x: xScale(i) + labelNudge[i], y: 1948}, axesG);
  t.textContent = c;
  
  
});
const yAxis = mk("line", {x1: AXIS_X, x2: AXIS_X, y1: Y3 - 1, y2: Y0, stroke: "#111", "stroke-width": 2.5}, axesG);


const xAxis = mk("line", {x1: 167, x2: 2042, y1: Y0, y2: Y0, stroke: "#222", "stroke-width": 3.5}, axesG);


yTickValues.forEach((v, i) => {
  const tick = mk("line", {x1: 167, x2: AXIS_X, y1: yScale(v), y2: yScale(v), stroke: "#111", "stroke-width": 2.5}, axesG);
  
  
  const t = mk("text", {class: "tick", x: 157, y: yScale(v) + 12}, axesG);
  t.textContent = yTickLabels[i];
  
  
  if (i < yTickValues.length - 1) {
    const m = mk("line", {x1: 174, x2: AXIS_X, y1: yScale((v + yTickValues[i + 1]) / 2), y2: yScale((v + yTickValues[i + 1]) / 2), stroke: "#111", "stroke-width": 2}, axesG);
    
    
  }
});
</script>
</body>
</html>
